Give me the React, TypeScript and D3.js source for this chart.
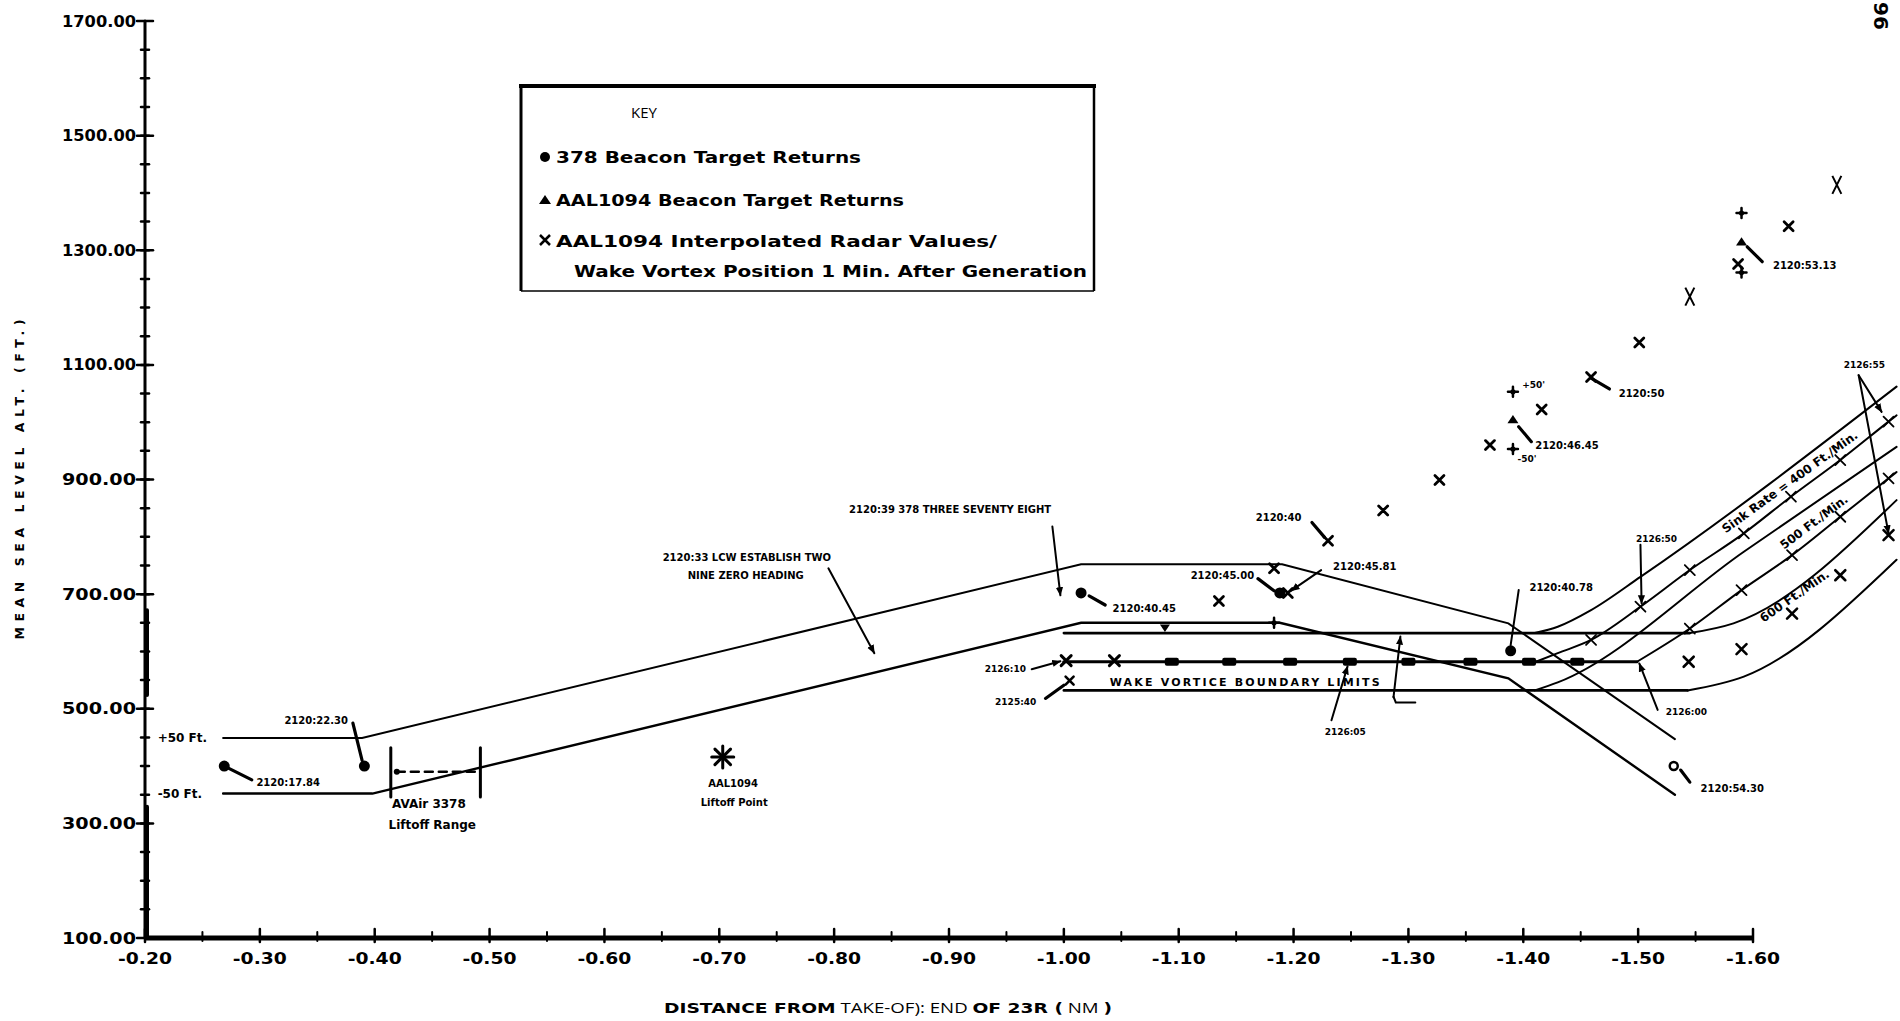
import React, { useEffect, useRef } from "react";
import * as d3 from "d3";

type Pt = [number, number];

// axis ticks
const yTickValues = [100, 300, 500, 700, 900, 1100, 1300, 1500, 1700];
const xTickValues = [-0.2, -0.3, -0.4, -0.5, -0.6, -0.7, -0.8, -0.9, -1.0, -1.1, -1.2, -1.3, -1.4, -1.5, -1.6];

// 378 flight path corridor (+50 / -50 ft)
const corridorUpper: Pt[] = [[-0.268, 449], [-0.389, 449], [-1.015, 752], [-1.19, 752], [-1.387, 649], [-1.532, 447]];
const corridorLower: Pt[] = [[-0.268, 352], [-0.398, 352], [-1.015, 650], [-1.188, 650], [-1.387, 553], [-1.532, 350]];

// wake vortex boundary, level part
const wakeTop: Pt[] = [[-1.0, 632], [-1.545, 632]];
const wakeMid: Pt[] = [[-1.0, 582], [-1.499, 582]];
const wakeBottom: Pt[] = [[-1.0, 532], [-1.543, 532]];
const wakeMidCrosses = [-1.002, -1.044];
const wakeMidTicks = [-1.094, -1.144, -1.197, -1.249, -1.3, -1.354, -1.405, -1.447];

// wake band after turn
const bandA: Pt[] = [[-1.41, 632], [-1.43, 643], [-1.459, 672], [-1.502, 730], [-1.725, 1062]];
const sink400: Pt[] = [[-1.411, 582], [-1.43, 597], [-1.459, 620], [-1.502, 678], [-1.545, 742], [-1.592, 806], [-1.633, 870], [-1.676, 934], [-1.718, 1001], [-1.725, 1012]];
const bandC: Pt[] = [[-1.41, 532], [-1.43, 546], [-1.592, 774], [-1.725, 957]];
const sink500: Pt[] = [[-1.499, 582], [-1.545, 640], [-1.59, 707], [-1.634, 768], [-1.676, 835], [-1.718, 902], [-1.725, 913]];
const bandE: Pt[] = [[-1.545, 632], [-1.583, 649], [-1.725, 864]];
const bandF: Pt[] = [[-1.543, 532], [-1.592, 556], [-1.725, 760]];
const sink400Marks: Pt[] = [[-1.459, 620], [-1.502, 678], [-1.545, 742], [-1.592, 806], [-1.633, 870], [-1.676, 934], [-1.718, 1001]];
const sink500Marks: Pt[] = [[-1.545, 640], [-1.59, 707], [-1.634, 768], [-1.676, 835], [-1.718, 902]];
const sink600: Pt[] = [[-1.544, 582], [-1.59, 604], [-1.634, 666], [-1.676, 733], [-1.718, 803]];

// returns
const beacon378: Pt[] = [[-0.269, 400], [-0.391, 400], [-1.015, 702], [-1.188, 702], [-1.389, 601]];
const beacon378Last: Pt = [-1.531, 400];
const aalBeacon: Pt[] = [[-1.391, 1005], [-1.59, 1315]];
const aalBounds: Pt[] = [[-1.391, 1053], [-1.391, 953], [-1.59, 1365], [-1.59, 1261]];
const aalInterp: Pt[] = [[-1.135, 688], [-1.183, 745], [-1.195, 702], [-1.23, 793], [-1.278, 846], [-1.327, 899], [-1.371, 960], [-1.416, 1022], [-1.459, 1079], [-1.501, 1139], [-1.587, 1276], [-1.631, 1342]];
const aalInterpBig: Pt[] = [[-1.545, 1219], [-1.673, 1414]];
const wakeBottomCross: Pt = [-1.005, 549];
const wakeTopTri: Pt = [-1.088, 641];
const corridorPlus: Pt = [-1.183, 650];
const aalLiftoff: Pt = [-0.703, 416];
const avairRange = [-0.414, -0.492];
const avairRangeAlt = [346, 432, 390];

type Note = { text: string; at: Pt; anchor?: string; kind?: "xs" | "s" | "m"; rot?: number };
const notes: Note[] = [
  { text: "+50 Ft.", at: [-0.211, 449], anchor: "start", kind: "m" },
  { text: "-50 Ft.", at: [-0.211, 351], anchor: "start", kind: "m" },
  { text: "2120:17.84", at: [-0.297, 371], anchor: "start" },
  { text: "2120:22.30", at: [-0.349, 479] },
  { text: "AVAir 3378", at: [-0.415, 335], anchor: "start", kind: "m" },
  { text: "Liftoff Range", at: [-0.412, 297], anchor: "start", kind: "m" },
  { text: "AAL1094", at: [-0.712, 370] },
  { text: "Liftoff Point", at: [-0.713, 336] },
  { text: "2120:33 LCW ESTABLISH TWO", at: [-0.724, 764] },
  { text: "NINE ZERO HEADING", at: [-0.723, 733] },
  { text: "2120:39  378 THREE SEVENTY EIGHT", at: [-0.901, 848] },
  { text: "2120:40.45", at: [-1.07, 675] },
  { text: "2120:45.00", at: [-1.138, 733] },
  { text: "2120:45.81", at: [-1.262, 749] },
  { text: "2120:40", at: [-1.187, 833] },
  { text: "2126:10", at: [-0.967, 570], anchor: "end", kind: "xs" },
  { text: "2125:40", at: [-0.976, 512], anchor: "end", kind: "xs" },
  { text: "2126:05", at: [-1.245, 460], kind: "xs" },
  { text: "2120:40.78", at: [-1.433, 711] },
  { text: "2120:54.30", at: [-1.582, 361] },
  { text: "2126:00", at: [-1.542, 495], kind: "xs" },
  { text: "2126:50", at: [-1.516, 797], kind: "xs" },
  { text: "2126:55", at: [-1.697, 1100], kind: "xs" },
  { text: "2120:53.13", at: [-1.645, 1273] },
  { text: "2120:50", at: [-1.503, 1050] },
  { text: "2120:46.45", at: [-1.438, 960] },
  { text: "+50'", at: [-1.399, 1065], anchor: "start", kind: "xs" },
  { text: "-50'", at: [-1.395, 937], anchor: "start", kind: "xs" },
  { text: "Sink Rate = 400 Ft./Min.", at: [-1.632, 896], rot: -36, kind: "m" },
  { text: "500 Ft./Min.", at: [-1.653, 826], rot: -37, kind: "m" },
  { text: "600 Ft./Min.", at: [-1.636, 697], rot: -35, kind: "m" },
];

type Leader = { pts: Pt[]; arrow?: boolean; heavy?: boolean };
const leaders: Leader[] = [
  { pts: [[-0.273, 396], [-0.293, 376]], heavy: true },
  { pts: [[-0.381, 475], [-0.389, 410]], heavy: true },
  { pts: [[-0.795, 745], [-0.835, 597]], arrow: true },
  { pts: [[-0.99, 818], [-0.997, 698]], arrow: true },
  { pts: [[-1.022, 697], [-1.036, 681]], heavy: true },
  { pts: [[-1.169, 727], [-1.183, 706]], heavy: true },
  { pts: [[-1.224, 742], [-1.198, 706]], arrow: true },
  { pts: [[-1.216, 825], [-1.227, 799]], heavy: true },
  { pts: [[-0.972, 569], [-0.997, 583]], arrow: true },
  { pts: [[-0.984, 518], [-1.0, 541]], heavy: true },
  { pts: [[-1.233, 480], [-1.247, 574]], arrow: true },
  { pts: [[-1.287, 520], [-1.293, 626]], arrow: true },
  { pts: [[-1.287, 521], [-1.289, 511], [-1.306, 511]] },
  { pts: [[-1.396, 707], [-1.389, 611]] },
  { pts: [[-1.537, 393], [-1.545, 372]], heavy: true },
  { pts: [[-1.517, 498], [-1.501, 579]], arrow: true },
  { pts: [[-1.502, 786], [-1.503, 684]], arrow: true },
  { pts: [[-1.692, 1082], [-1.712, 1018]], arrow: true },
  { pts: [[-1.692, 1082], [-1.718, 806]], arrow: true },
  { pts: [[-1.595, 1306], [-1.608, 1280]], heavy: true },
  { pts: [[-1.459, 1077], [-1.475, 1058]], heavy: true },
  { pts: [[-1.396, 992], [-1.407, 966]], heavy: true },
];

const keyLabels = [
  "378 Beacon Target Returns",
  "AAL1094 Beacon Target Returns",
  "AAL1094 Interpolated Radar Values/",
  "Wake Vortex  Position 1 Min. After Generation",
];

const BOLD = "'DejaVu Sans', sans-serif";

export default function App() {
  const ref = useRef<SVGSVGElement>(null);

  useEffect(() => {
    const svg = d3.select(ref.current);
    svg.selectAll("*").remove();

    const x = d3.scaleLinear().domain([-0.2, -1.6]).range([145, 1753]);
    const y = d3.scaleLinear().domain([100, 1700]).range([938, 21]);
    const line = d3.line<Pt>().x((d) => x(d[0])).y((d) => y(d[1]));
    const smooth = d3.line<Pt>().x((d) => x(d[0])).y((d) => y(d[1])).curve(d3.curveMonotoneX);

    svg.append("defs").append("marker")
      .attr("id", "arr").attr("viewBox", "0 0 10 10").attr("refX", 9).attr("refY", 5)
      .attr("markerWidth", 9).attr("markerHeight", 9).attr("markerUnits", "userSpaceOnUse")
      .attr("orient", "auto")
      .append("path").attr("d", "M0,1 L10,5 L0,9 z").attr("fill", "#000");

    const g = svg.append("g").attr("stroke-linecap", "round");

    const cross = (p: Pt, s: number, w: number) => {
      const cx = x(p[0]), cy = y(p[1]);
      g.append("path")
        .attr("d", `M${cx - s},${cy - s}L${cx + s},${cy + s}M${cx - s},${cy + s}L${cx + s},${cy - s}`)
        .attr("stroke", "#000").attr("stroke-width", w);
    };
    const plus = (p: Pt, s: number) => {
      const cx = x(p[0]), cy = y(p[1]);
      g.append("path").attr("d", `M${cx - s},${cy}L${cx + s},${cy}M${cx},${cy - s}L${cx},${cy + s}`)
        .attr("stroke", "#000").attr("stroke-width", 2.5);
      g.append("circle").attr("cx", cx).attr("cy", cy).attr("r", 2.6).attr("fill", "#000");
    };
    const tri = (p: Pt, s: number, down = false) => {
      const cx = x(p[0]), cy = y(p[1]);
      const d = down
        ? `M${cx - s},${cy - s * 0.7}L${cx + s},${cy - s * 0.7}L${cx},${cy + s * 0.8}Z`
        : `M${cx - s},${cy + s * 0.7}L${cx + s},${cy + s * 0.7}L${cx},${cy - s * 0.8}Z`;
      g.append("path").attr("d", d).attr("fill", "#000");
    };

    // y axis
    const x0 = x(-0.2);
    g.append("line").attr("x1", x0).attr("x2", x0).attr("y1", y(1700)).attr("y2", y(100))
      .attr("stroke", "#000").attr("stroke-width", 3);
    [[672, 524], [329, 100]].forEach(([a, b]) =>
      g.append("line").attr("x1", x0 + 2).attr("x2", x0 + 2).attr("y1", y(a)).attr("y2", y(b))
        .attr("stroke", "#000").attr("stroke-width", 4)
    );
    g.selectAll(".ymin").data(d3.range(150, 1700, 50)).join("line")
      .attr("x1", x0 - 4).attr("x2", x0 + 4).attr("y1", (d) => y(d)).attr("y2", (d) => y(d))
      .attr("stroke", "#000").attr("stroke-width", 2.5);
    g.selectAll(".ymaj").data(yTickValues).join("line")
      .attr("x1", x0 - 8).attr("x2", x0 + 8).attr("y1", (d) => y(d)).attr("y2", (d) => y(d))
      .attr("stroke", "#000").attr("stroke-width", 2.5);
    g.selectAll(".ylab").data(yTickValues).join("text")
      .attr("x", x0 - 9).attr("y", (d) => y(d)).attr("dy", "0.36em")
      .attr("text-anchor", "end").attr("font-family", BOLD).attr("font-weight", 700)
      .attr("font-size", 15.5).attr("textLength", 74).attr("lengthAdjust", "spacingAndGlyphs")
      .text((d) => d3.format(".2f")(d));

    // x axis
    const yb = y(100);
    g.append("line").attr("x1", x0).attr("x2", x(-1.6)).attr("y1", yb).attr("y2", yb)
      .attr("stroke", "#000").attr("stroke-width", 5).attr("stroke-linecap", "butt");
    g.selectAll(".xmin").data(d3.range(-0.25, -1.6, -0.1)).join("line")
      .attr("x1", (d) => x(d)).attr("x2", (d) => x(d)).attr("y1", yb - 6).attr("y2", yb + 3)
      .attr("stroke", "#000").attr("stroke-width", 2);
    g.selectAll(".xmaj").data(xTickValues).join("line")
      .attr("x1", (d) => x(d)).attr("x2", (d) => x(d)).attr("y1", yb - 9).attr("y2", yb + 4)
      .attr("stroke", "#000").attr("stroke-width", 2.5);
    g.selectAll(".xlab").data(xTickValues).join("text")
      .attr("x", (d) => x(d)).attr("y", yb + 26).attr("text-anchor", "middle")
      .attr("font-family", BOLD).attr("font-weight", 700).attr("font-size", 15.5)
      .attr("textLength", 54).attr("lengthAdjust", "spacingAndGlyphs")
      .text((d) => "-" + Math.abs(d).toFixed(2));

    // axis titles
    svg.append("text")
      .attr("transform", `translate(24, ${y(900)}) rotate(-90)`)
      .attr("text-anchor", "middle").attr("font-family", BOLD).attr("font-weight", 700)
      .attr("font-size", 12.5).attr("textLength", 320).attr("lengthAdjust", "spacing")
      .text("MEAN SEA LEVEL ALT. (FT.)");
    const xt = svg.append("text").attr("x", 664).attr("y", 1013).attr("font-size", 14)
      .attr("textLength", 448).attr("lengthAdjust", "spacingAndGlyphs");
    xt.append("tspan").attr("font-family", BOLD).attr("font-weight", 700).text("DISTANCE FROM");
    xt.append("tspan").attr("font-family", "'Open Sans', sans-serif").text(" TAKE-OF): END ");
    xt.append("tspan").attr("font-family", BOLD).attr("font-weight", 700).text("OF 23R (");
    xt.append("tspan").attr("font-family", "'Open Sans', sans-serif").text(" NM ");
    xt.append("tspan").attr("font-family", BOLD).attr("font-weight", 700).text(")");

    svg.append("text").attr("transform", "translate(1874, 2) rotate(90)")
      .attr("font-family", BOLD).attr("font-weight", 700).attr("font-size", 20).text("96");

    // corridor lines
    [corridorUpper, corridorLower].forEach((d, i) =>
      g.append("path").attr("d", line(d)).attr("fill", "none").attr("stroke", "#000")
        .attr("stroke-width", i === 0 ? 2 : 2.4)
    );

    // wake vortex level lines
    [wakeTop, wakeMid, wakeBottom].forEach((d, i) =>
      g.append("path").attr("d", line(d)).attr("fill", "none").attr("stroke", "#000")
        .attr("stroke-width", i === 1 ? 3.2 : 2.6)
    );
    wakeMidCrosses.forEach((v) => cross([v, 584], 5, 3));
    g.selectAll(".blob").data(wakeMidTicks).join("rect")
      .attr("x", (d) => x(d) - 7).attr("y", y(582) - 4).attr("width", 14).attr("height", 8)
      .attr("rx", 2).attr("fill", "#000");
    cross(wakeBottomCross, 4, 2.6);
    tri(wakeTopTri, 5, true);
    plus(corridorPlus, 5);

    // sloped band
    [bandA, sink400, bandC, sink500, bandE, bandF].forEach((d) =>
      g.append("path").attr("d", smooth(d)).attr("fill", "none").attr("stroke", "#000").attr("stroke-width", 2)
    );
    sink400Marks.forEach((p) => cross(p, 5, 1.8));
    sink500Marks.forEach((p) => cross(p, 5, 1.8));
    sink600.forEach((p) => cross(p, 5, 2.6));

    // AVAir liftoff range
    avairRange.forEach((v) =>
      g.append("line").attr("x1", x(v)).attr("x2", x(v)).attr("y1", y(avairRangeAlt[0])).attr("y2", y(avairRangeAlt[1]))
        .attr("stroke", "#000").attr("stroke-width", 3)
    );
    g.append("line").attr("x1", x(avairRange[0]) + 6).attr("x2", x(avairRange[1]) - 2)
      .attr("y1", y(avairRangeAlt[2])).attr("y2", y(avairRangeAlt[2]))
      .attr("stroke", "#000").attr("stroke-width", 2.5).attr("stroke-dasharray", "8 6");
    g.append("circle").attr("cx", x(avairRange[0]) + 6).attr("cy", y(avairRangeAlt[2])).attr("r", 3).attr("fill", "#000");

    // AAL1094 liftoff point
    {
      const cx = x(aalLiftoff[0]), cy = y(aalLiftoff[1]);
      d3.range(0, 180, 45).forEach((a) => {
        const r = (a * Math.PI) / 180;
        g.append("line").attr("x1", cx - 11 * Math.cos(r)).attr("x2", cx + 11 * Math.cos(r))
          .attr("y1", cy - 11 * Math.sin(r)).attr("y2", cy + 11 * Math.sin(r))
          .attr("stroke", "#000").attr("stroke-width", 3);
      });
    }

    // symbols
    beacon378.forEach((p) => g.append("circle").attr("cx", x(p[0])).attr("cy", y(p[1])).attr("r", 5.5).attr("fill", "#000"));
    g.append("circle").attr("cx", x(beacon378Last[0])).attr("cy", y(beacon378Last[1])).attr("r", 4)
      .attr("fill", "#fff").attr("stroke", "#000").attr("stroke-width", 2.5);
    aalBeacon.forEach((p) => tri(p, 5.5));
    aalBounds.forEach((p) => plus(p, 5));
    aalInterp.forEach((p) => cross(p, 4.5, 2.8));
    aalInterpBig.forEach((p) => {
      const cx = x(p[0]), cy = y(p[1]);
      g.append("path").attr("d", `M${cx - 4.5},${cy - 9}L${cx + 4.5},${cy + 9}M${cx + 4.5},${cy - 9}L${cx - 4.5},${cy + 9}`)
        .attr("stroke", "#000").attr("stroke-width", 2).attr("stroke-linecap", "butt");
    });

    // leaders
    leaders.forEach((l) => {
      const p = g.append("path").attr("d", line(l.pts)).attr("fill", "none").attr("stroke", "#000")
        .attr("stroke-width", l.heavy ? 3.2 : 2);
      if (l.arrow) p.attr("marker-end", "url(#arr)");
    });

    // annotations
    const size = { xs: 9, s: 10, m: 12 };
    notes.forEach((n) => {
      const t = g.append("text")
        .attr("text-anchor", n.anchor ?? "middle").attr("dy", "0.36em")
        .attr("font-family", BOLD).attr("font-weight", 700)
        .attr("font-size", size[n.kind ?? "s"]).text(n.text);
      if (n.rot !== undefined) t.attr("transform", `translate(${x(n.at[0])},${y(n.at[1])}) rotate(${n.rot})`);
      else t.attr("x", x(n.at[0])).attr("y", y(n.at[1]));
    });
    g.append("text").attr("x", x(-1.04)).attr("y", y(532) - 4)
      .attr("font-family", BOLD).attr("font-weight", 700).attr("font-size", 11)
      .attr("textLength", x(-1.275) - x(-1.04)).attr("lengthAdjust", "spacing")
      .text("WAKE VORTICE BOUNDARY LIMITS");

    // key
    const k = svg.append("g");
    k.append("line").attr("x1", 519).attr("x2", 1096).attr("y1", 86).attr("y2", 86).attr("stroke", "#000").attr("stroke-width", 4);
    k.append("line").attr("x1", 521).attr("x2", 521).attr("y1", 86).attr("y2", 291).attr("stroke", "#000").attr("stroke-width", 3);
    k.append("line").attr("x1", 1094).attr("x2", 1094).attr("y1", 86).attr("y2", 291).attr("stroke", "#000").attr("stroke-width", 2.5);
    k.append("line").attr("x1", 521).attr("x2", 1094).attr("y1", 291).attr("y2", 291).attr("stroke", "#000").attr("stroke-width", 1.5);
    k.append("text").attr("x", 644).attr("y", 118).attr("text-anchor", "middle")
      .attr("font-family", "'Open Sans', sans-serif").attr("font-size", 15).text("KEY");
    k.append("circle").attr("cx", 545).attr("cy", 157).attr("r", 5).attr("fill", "#000");
    k.append("path").attr("d", "M539,204L551,204L545,195Z").attr("fill", "#000");
    k.append("path").attr("d", "M540,235L550,245M540,245L550,235").attr("stroke", "#000").attr("stroke-width", 2.5);
    const keyRows = [
      { x: 556, y: 163, w: 305 },
      { x: 556, y: 206, w: 348 },
      { x: 556, y: 247, w: 441 },
      { x: 574, y: 277, w: 513 },
    ];
    keyLabels.forEach((t, i) =>
      k.append("text").attr("x", keyRows[i].x).attr("y", keyRows[i].y)
        .attr("font-family", BOLD).attr("font-weight", 700).attr("font-size", 16)
        .attr("textLength", keyRows[i].w).attr("lengthAdjust", "spacingAndGlyphs").text(t)
    );
  }, []);

  return (
    <svg
      ref={ref}
      width={1900}
      height={1021}
      style={{ position: "absolute", left: 0, top: 0, background: "#fff" }}
    />
  );
}
